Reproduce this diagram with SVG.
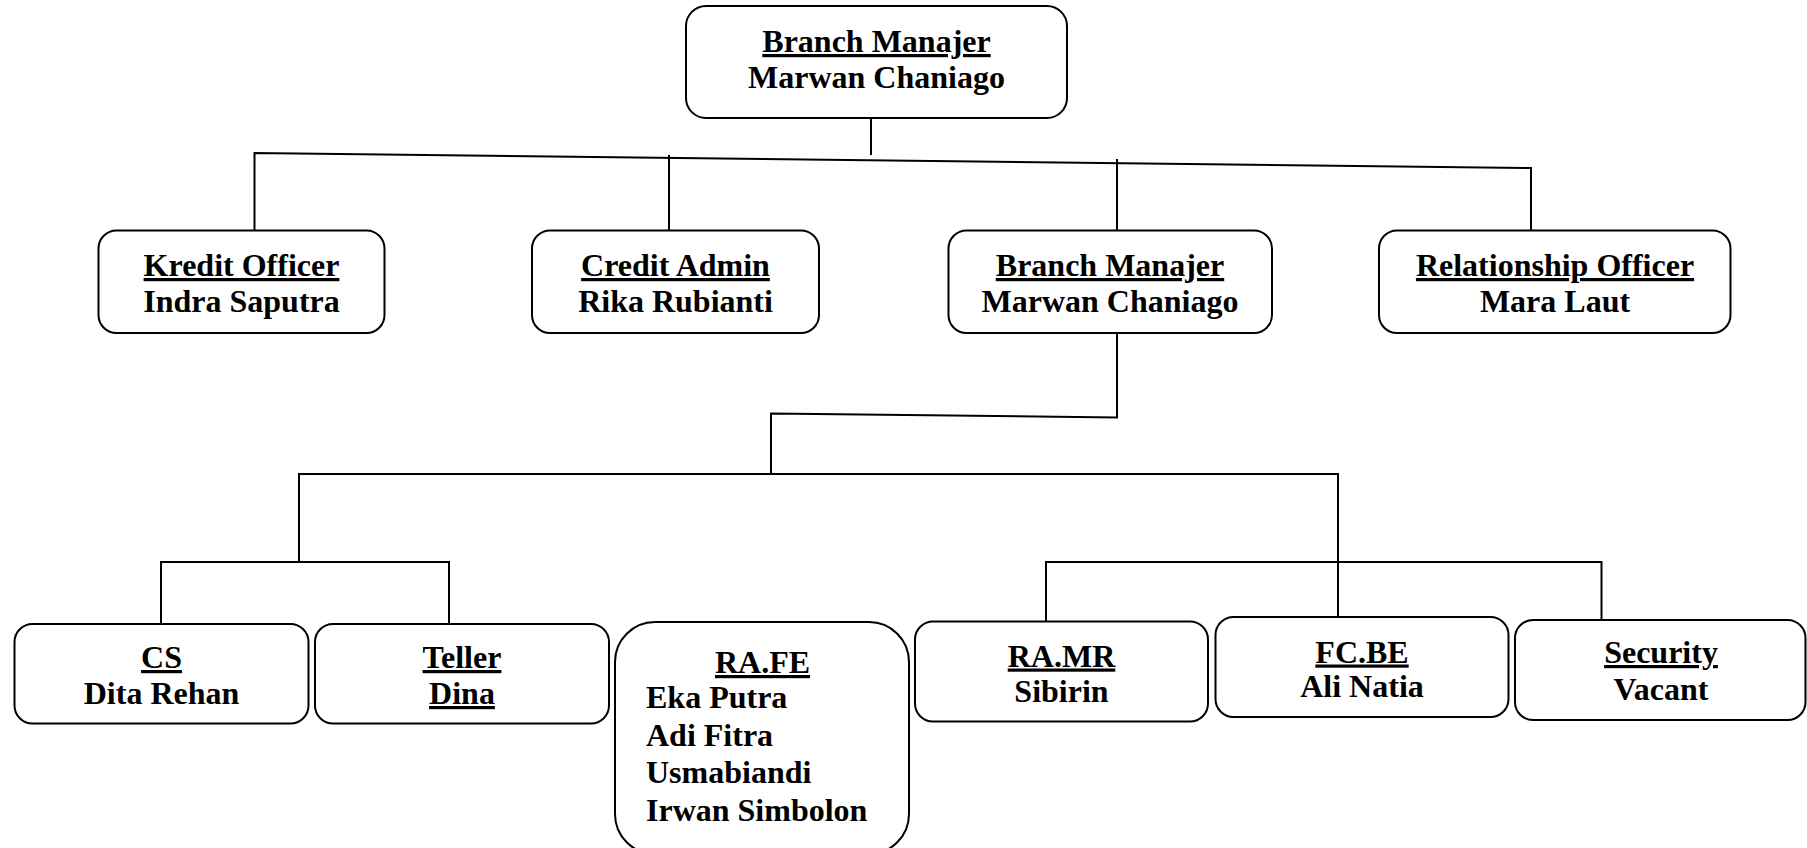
<svg xmlns="http://www.w3.org/2000/svg" width="1807" height="848" viewBox="0 0 1807 848">
<style>
.box{fill:#fff;stroke:#000;stroke-width:2}
.ln{fill:none;stroke:#000;stroke-width:2}
text{font-family:"Liberation Serif","Times New Roman",serif;font-weight:bold;font-size:32px;fill:#000}
.c{text-anchor:middle}
.u{text-decoration:underline}
</style>
<rect width="1807" height="848" fill="#fff"/>
<g id="connectors">
<line class="ln" x1="871" y1="118" x2="871" y2="155"/>
<polyline class="ln" points="254.5,230 254.5,153 1531,168 1531,232" stroke-width="2.5"/>
<line class="ln" x1="669" y1="155" x2="669" y2="232"/>
<line class="ln" x1="1117" y1="159" x2="1117" y2="236"/>
<polyline class="ln" points="1117,333 1117,417.5 771,413.5 771,474"/>
<polyline class="ln" points="299,562 299,474 1338,474 1338,617"/>
<polyline class="ln" points="161,623 161,562 449,562 449,623"/>
<polyline class="ln" points="1046,621 1046,562 1601.5,562 1601.5,622"/>
</g>
<g id="n-top">
<rect class="box" x="686" y="6" width="381" height="112" rx="20"/>
<text class="c u" x="876.5" y="52">Branch Manajer</text>
<text class="c" x="876.5" y="88">Marwan Chaniago</text>
</g>
<g id="n-kredit">
<rect class="box" x="98.5" y="230.5" width="286" height="102.5" rx="18"/>
<text class="c u" x="241.5" y="276">Kredit Officer</text>
<text class="c" x="241.5" y="312">Indra Saputra</text>
</g>
<g id="n-credit-admin">
<rect class="box" x="532" y="230.5" width="287" height="102.5" rx="18"/>
<text class="c u" x="675.5" y="276">Credit Admin</text>
<text class="c" x="675.5" y="312">Rika Rubianti</text>
</g>
<g id="n-branch2">
<rect class="box" x="948.5" y="230.5" width="323.5" height="102.5" rx="18"/>
<text class="c u" x="1110" y="276">Branch Manajer</text>
<text class="c" x="1110" y="312">Marwan Chaniago</text>
</g>
<g id="n-relationship">
<rect class="box" x="1379" y="230.5" width="351.5" height="102.5" rx="18"/>
<text class="c u" x="1555" y="276">Relationship Officer</text>
<text class="c" x="1555" y="312">Mara Laut</text>
</g>
<g id="n-cs">
<rect class="box" x="14.5" y="624" width="294" height="99.5" rx="18"/>
<text class="c u" x="161.5" y="668">CS</text>
<text class="c" x="161.5" y="704">Dita Rehan</text>
</g>
<g id="n-teller">
<rect class="box" x="315" y="624" width="294" height="99.5" rx="18"/>
<text class="c u" x="462" y="668">Teller</text>
<text class="c u" x="462" y="704">Dina</text>
</g>
<g id="n-rafe">
<rect class="box" x="615" y="622" width="294" height="232" rx="40"/>
<text class="c u" x="762.5" y="673">RA.FE</text>
<text x="646" y="708">Eka Putra</text>
<text x="646" y="745.5">Adi Fitra</text>
<text x="646" y="783">Usmabiandi</text>
<text x="646" y="820.5">Irwan Simbolon</text>
</g>
<g id="n-ramr">
<rect class="box" x="915" y="621.5" width="293" height="100" rx="18"/>
<text class="c u" x="1061.5" y="666.5">RA.MR</text>
<text class="c" x="1061.5" y="701.5">Sibirin</text>
</g>
<g id="n-fcbe">
<rect class="box" x="1215.5" y="617" width="293" height="100" rx="18"/>
<text class="c u" x="1362" y="662.5">FC.BE</text>
<text class="c" x="1362" y="697">Ali Natia</text>
</g>
<g id="n-security">
<rect class="box" x="1515" y="620" width="290.5" height="100" rx="18"/>
<text class="c u" x="1661" y="663">Security</text>
<text class="c" x="1661" y="700">Vacant</text>
</g>
</svg>
